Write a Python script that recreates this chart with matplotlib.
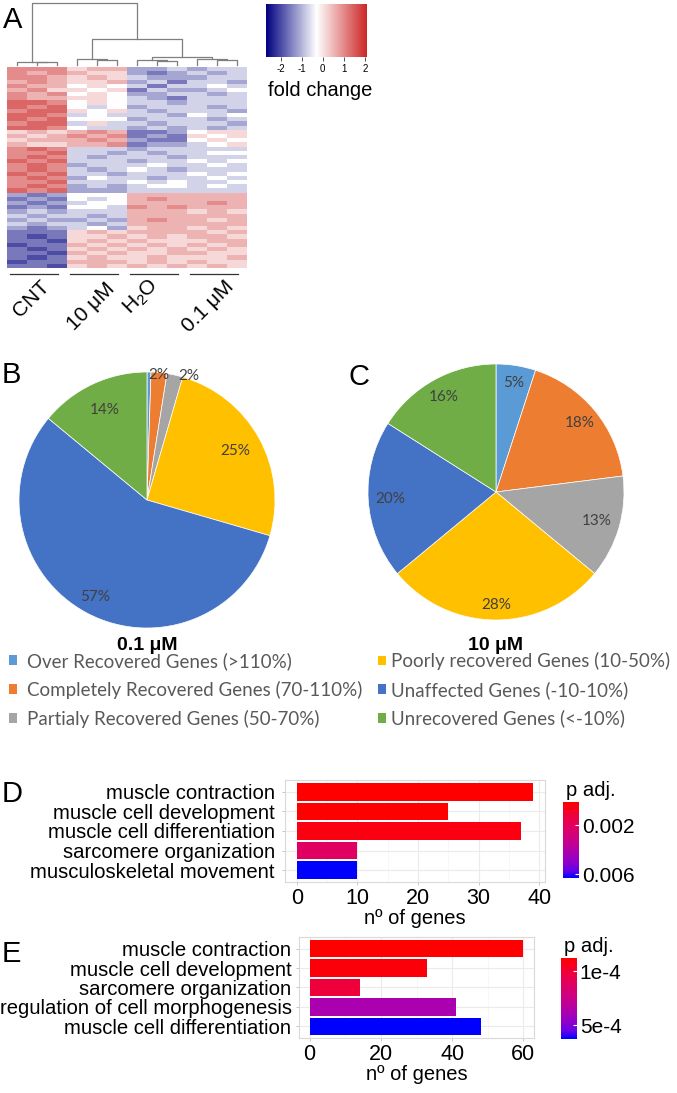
import numpy as np
import matplotlib
matplotlib.use('Agg')
import matplotlib.pyplot as plt
from matplotlib.colors import LinearSegmentedColormap, Normalize
from matplotlib.cm import ScalarMappable
from matplotlib.patches import Patch

plt.rcParams['font.family'] = ['Liberation Sans', 'DejaVu Sans']
plt.rcParams['axes.unicode_minus'] = False

# ---------------- data ----------------
# panel A: heatmap, columns = CNT x3, 10 uM x3, H2O x3, 0.1 uM x3
group_names = ['CNT', '10 μM', r'$\mathregular{H_2O}$', '0.1 μM']
# fold change level per gene, one digit per sample (5 = -0.3, step 0.42)
heat_rows = [
    "888677334344", "878766323434", "887676433344", "787667342443",
    "877565424454", "786656243345", "878565334434", "877665432444",
    "998565443444", "989545344434", "899656434443", "998454443545",
    "989555344434", "899464434443", "998544343434",
    "676787223566", "767878232656", "677787322565", "766778233456",
    "898444344444", "889443434455", "898434443444", "989444344545",
    "898344454454", "898434543444", "989443444545", "898354434454",
    "889444545445", "898343455454", "989333444444",
    "323555777777", "232545787777", "323455777787", "232554878777",
    "343444777676",
    "434434777777", "343343787767", "434434777777", "323453677676",
    "222676777767", "212667676776", "221676766677", "122767676767",
    "212676767676", "221767667766", "212676676667", "122777676766",
    "221676767676",
]
# column dendrogram: (left, right, height), leaves 0..11, new nodes from 12
col_merges = [(1, 2, 0.045), (0, 12, 0.055), (4, 5, 0.08), (3, 14, 0.092),
              (7, 8, 0.07), (6, 16, 0.08), (10, 11, 0.08), (9, 18, 0.09),
              (17, 19, 0.124), (15, 20, 0.414), (13, 21, 0.99)]

# panels B, C: pies
pie_cats = ['Over Recovered Genes (>110%)', 'Completely Recovered Genes (70-110%)',
            'Partialy Recovered Genes (50-70%)', 'Poorly recovered Genes (10-50%)',
            'Unaffected Genes (-10-10%)', 'Unrecovered Genes (<-10%)']
pie_colors = ['#5B9BD5', '#ED7D31', '#A5A5A5', '#FFC000', '#4472C4', '#70AD47']
pie_b = [0.5, 2.0, 2.0, 25.0, 56.5, 14.0]
pie_b_text = ['', '2%', '2%', '25%', '57%', '14%']
pie_c = [5, 18, 13, 28, 20, 16]
pie_c_text = ['5%', '18%', '13%', '28%', '20%', '16%']

# panels D, E: GO terms
d_terms = ['muscle contraction', 'muscle cell development', 'muscle cell differentiation',
           'sarcomere organization', 'musculoskeletal movement']
d_genes = [39, 25, 37, 10, 10]
d_padj = [0.00008, 0.00012, 0.0004, 0.0021, 0.0063]
e_terms = ['muscle contraction', 'muscle cell development', 'sarcomere organization',
           'regulation of cell morphogenesis', 'muscle cell differentiation']
e_genes = [60, 33, 14, 41, 48]
e_padj = [0.000002, 0.00002, 0.00011, 0.0004, 0.0006]

# ---------------- layout helpers ----------------
W, H = 677, 1093
fig = plt.figure(figsize=(W / 100, H / 100), dpi=100)


def box(x0, y0, x1, y1):
    return [x0 / W, 1 - y1 / H, (x1 - x0) / W, (y1 - y0) / H]


def ftext(x, y, s, **kw):
    fig.text(x / W, 1 - y / H, s, **kw)


# ---------------- A: heatmap ----------------
heat = np.array([[int(c) for c in r] for r in heat_rows], dtype=float)
heat = -0.3 + 0.42 * (heat - 5)
hm_cmap = LinearSegmentedColormap.from_list('hm', ['#000080', '#FFFFFF', '#CD2626'])
hm_norm = Normalize(-2.7, 2.1)

nrow = len(heat_rows)
axh = fig.add_axes(box(7, 67, 247, 268))
axh.imshow(heat, cmap=hm_cmap, norm=hm_norm, aspect='auto', interpolation='nearest')
for g in range(4):
    axh.plot([3 * g - 0.35, 3 * g + 2.05], [nrow + 0.9, nrow + 0.9],
             color='#333333', lw=0.9, clip_on=False)
axh.set_xlim(-0.5, 11.5)
axh.set_ylim(nrow - 0.5, -0.5)
axh.axis('off')

label_anchor = [(53, 277), (118, 279), (163, 275), (238, 277)]
for name, (x, y) in zip(group_names, label_anchor):
    ftext(x, y, name, rotation=45, ha='right', va='top', fontsize=15)

# dendrogram
axd = fig.add_axes(box(7, 2, 247, 65))
axd.set_xlim(-0.5, 11.5)
axd.set_ylim(0, 1.0)
axd.axis('off')
pos = {i: (float(i), 0.0) for i in range(12)}
for k, (a, b, h) in enumerate(col_merges):
    xa, ha = pos[a]
    xb, hb = pos[b]
    axd.plot([xa, xa, xb, xb], [ha, h, h, hb], color='#7F7F7F', lw=0.9, clip_on=False)
    pos[12 + k] = ((xa + xb) / 2, h)

# colour key
axk = fig.add_axes(box(266, 4, 367, 57))
cbk = fig.colorbar(ScalarMappable(hm_norm, hm_cmap), cax=axk, orientation='horizontal',
                   ticks=[-2, -1, 0, 1, 2])
cbk.outline.set_visible(False)
axk.tick_params(labelsize=7, length=3, width=0.6, color='#333333', pad=2)
ftext(320, 96, 'fold change', ha='center', va='baseline', fontsize=14.5)

# ---------------- B, C: pies ----------------
def draw_pie(rect, vals, texts, radii, nudges, title):
    ax = fig.add_axes(box(*rect))
    wedges, _ = ax.pie(vals, colors=pie_colors, startangle=90, counterclock=False,
                       radius=1, wedgeprops=dict(edgecolor='white', linewidth=0.5))
    for w, t, r, dn in zip(wedges, texts, radii, nudges):
        ang = np.deg2rad((w.theta1 + w.theta2) / 2 + dn)
        ax.text(r * np.cos(ang), r * np.sin(ang), t, ha='center', va='center',
                fontsize=11, color='#404040', family='Lato')
    ax.set_xlim(-1, 1)
    ax.set_ylim(-1, 1)
    cx = (rect[0] + rect[2]) / 2
    ftext(cx, 645, title, ha='center', va='center', fontsize=14, fontweight='bold')
    return ax


draw_pie((19, 372, 275, 628), pie_b, pie_b_text,
         [0.9, 0.98, 1.02, 0.79, 0.86, 0.78], [0, 0, -6, 0, 0, 0], '0.1 μM')
draw_pie((368, 364, 624, 620), pie_c, pie_c_text,
         [0.86, 0.85, 0.82, 0.88, 0.83, 0.85], [0, 0, 0, 0, 0, 0], '10 μM')

handles = [Patch(facecolor=c, edgecolor='none') for c in pie_colors]
leg_kw = dict(loc='upper left', frameon=False, ncol=1, borderpad=0, borderaxespad=0,
              handlelength=0.42, handleheight=0.42, labelspacing=0.58,
              prop=dict(family='Lato', size=13.5), labelcolor='#595959')
fig.legend(handles[:3], pie_cats[:3], bbox_to_anchor=(9 / W, 1 - 652 / H),
           handletextpad=0.55, **leg_kw)
fig.legend(handles[3:], pie_cats[3:], bbox_to_anchor=(378 / W, 1 - 652 / H),
           handletextpad=0.25, **leg_kw)

# ---------------- D, E: GO bar charts ----------------
p_cmap = LinearSegmentedColormap.from_list(
    'padj', [(0, '#FF0000'), (0.25, '#E80050'), (0.5, '#CA0089'),
             (0.75, '#9A00C2'), (0.9, '#6800E7'), (1, '#0000FF')])


def go_bars(rect, crect, terms, genes, padj, xticks, minor, cticks, clabels, ypad):
    ax = fig.add_axes(box(*rect))
    norm = Normalize(min(padj), max(padj))
    ypos = np.arange(len(terms))
    ax.barh(ypos, genes, height=0.9, color=p_cmap(norm(np.array(padj))), zorder=2)
    ax.set_yticks(ypos, terms)
    ax.set_ylim(len(terms) - 0.4, -0.6)
    top = max(genes)
    ax.set_xlim(-0.05 * top, 1.05 * top)
    ax.set_xticks(xticks)
    ax.set_xticks(minor, minor=True)
    ax.set_axisbelow(True)
    ax.grid(which='major', color='#EBEBEB', lw=0.8)
    ax.grid(which='minor', axis='x', color='#F4F4F4', lw=0.5)
    for s in ax.spines.values():
        s.set_color('#D9D9D9')
        s.set_linewidth(0.8)
    ax.tick_params(axis='y', labelsize=14.6, length=2.5, width=0.6, color='#BBBBBB', pad=ypad)
    ax.tick_params(axis='x', labelsize=15.5, length=2.5, width=0.6, color='#BBBBBB', pad=1.5)
    ax.tick_params(which='minor', length=0)
    ax.set_xlabel('nº of genes', fontsize=14.5, labelpad=0)

    cax = fig.add_axes(box(*crect))
    cb = fig.colorbar(ScalarMappable(norm, p_cmap), cax=cax, ticks=cticks)
    cb.ax.set_yticklabels(clabels)
    cb.ax.invert_yaxis()
    cb.outline.set_visible(False)
    cb.ax.tick_params(labelsize=15, length=3, width=0.8, color='white', direction='in', pad=2)
    ftext(crect[0] + 3, crect[1] - 12, 'p adj.', ha='left', va='center', fontsize=14.6)
    return ax


go_bars((285, 780, 545, 882), (563, 802, 579, 878), d_terms, d_genes, d_padj,
        [0, 10, 20, 30, 40], [5, 15, 25, 35], [0.002, 0.006], ['0.002', '0.006'], 4.7)
go_bars((299, 937, 534, 1038), (561, 958, 577, 1039), e_terms, e_genes, e_padj,
        [0, 20, 40, 60], [10, 30, 50], [0.0001, 0.0005], ['1e-4', '5e-4'], 2.9)

# ---------------- panel letters ----------------
for letter, x, y in [('A', 3, 28), ('B', 2, 383), ('C', 348, 385), ('D', 2, 802), ('E', 2, 962)]:
    ftext(x, y, letter, ha='left', va='baseline', fontsize=21)

fig.savefig('out.png', dpi=100)
